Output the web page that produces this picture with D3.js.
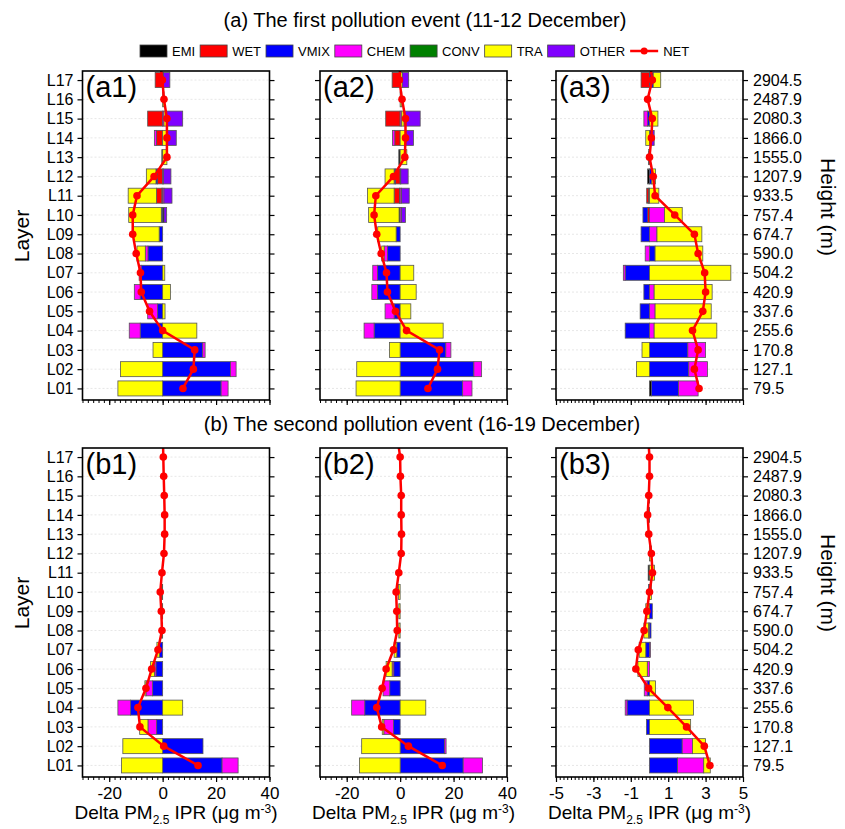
<!DOCTYPE html>
<html>
<head>
<meta charset="utf-8">
<script src="https://cdn.jsdelivr.net/npm/d3@7"></script>
<style>
  body { margin: 0; background: #fff; }
  svg { font-family: Arial, "Liberation Sans", sans-serif; }
</style>
</head>
<body>
<svg id="chart" width="845" height="829"></svg>
<script>
// Layers and model heights
var layers = ["L01","L02","L03","L04","L05","L06","L07","L08","L09","L10","L11","L12","L13","L14","L15","L16","L17"];
var heights = ["79.5","127.1","170.8","255.6","337.6","420.9","504.2","590.0","674.7","757.4","933.5","1207.9","1555.0","1866.0","2080.3","2487.9","2904.5"];

var processes = ["EMI","WET","VMIX","CHEM","CONV","TRA","OTHER"];
var colors = ["#000000","#ff0000","#0000ff","#ff00ff","#008000","#ffff00","#8000ff"];

var zeros = [0,0,0,0,0,0,0,0,0,0,0,0,0,0,0,0,0];

// (a1) first event, values L01..L17
var a1 = {
  EMI:   [0,0,0,0,0,0,0,0,0,0.5,-0.3,0,-0.3,0,0,0,0],
  WET:   [0,0,0,0,0,0,0,0,0,0,-2.0,-1.9,0,-2.3,-5.6,0,-2.8],
  VMIX:  [21.9,25.4,15.0,-8.4,-1.9,-8.4,-8.0,-5.5,-1.3,-0.5,0,-0.6,0,0,0,0,0.3],
  CHEM:  [2.6,2.1,0.9,-4.1,-3.7,-2.2,-0.8,-1.0,0,0,0.5,0.3,0,-0.8,0.5,0,0],
  CONV:  zeros,
  TRA:   [-16.75,-15.75,-3.6,12.8,0.9,2.9,0.8,-3.1,-9.6,-12.2,-10.6,-3.6,1.6,1.6,1.0,0.5,0],
  OTHER: [0,0,0,0,0,0,0,0,0,1.0,3.0,2.8,0,3.5,6.0,0,2.4]
};
// NET has one extra value above L17 (clipped by the frame)
var a1_net = [7.6,11.5,12.0,0.0,-4.9,-8.0,-8.3,-9.9,-11.2,-11.2,-9.6,-3.2,1.6,1.6,1.6,0.5,-0.1,-1.0];

var a2 = {
  EMI:   [0,0,0,0,0,0,0,0,0,-0.4,-0.25,0,-0.5,0,0,0,0],
  WET:   [0,0,0,0,0,0,0,0,0,0,-2.0,-1.75,0,-2.0,-5.4,0,-3.0],
  VMIX:  [23.4,27.6,17.1,-9.75,-2.25,-8.5,-8.5,-4.75,-1.5,0,0,-0.5,0,0,0,0,0],
  CHEM:  [3.5,2.9,1.9,-3.75,-3.4,-2.1,-1.75,-1.25,0,0.5,0.5,0.25,0,-0.9,0.6,0,0],
  CONV:  zeros,
  TRA:   [-16.5,-16.25,-4.0,16.1,4.0,6.0,5.1,-0.9,-6.9,-11.4,-10.0,-3.4,2.5,2.1,0.9,0.6,0.8],
  OTHER: [0,0,0,0,0,0,0,0,0,1.5,2.9,2.75,0,2.9,6.0,0,2.4]
};
var a2_net = [10.4,14.0,14.75,2.4,-1.75,-4.75,-5.1,-7.1,-8.75,-9.75,-9.1,-2.5,1.75,2.0,2.0,0.7,-0.3,0.2];

var a3 = {
  EMI:   [0.1,0,0,0,0,0,0,0,0,0,-0.05,-0.1,-0.05,0,0,0,0],
  WET:   [0,0,0,0,0,0,0,0,0,-0.1,-0.1,0,0,0,0,0,-0.45],
  VMIX:  [1.45,2.1,2.05,-1.3,-0.5,-0.3,-1.3,0.3,-0.45,-0.25,0,0.12,0,0.1,-0.1,0,0.2],
  CHEM:  [1.05,1.0,0.95,0.25,0.3,0.25,-0.1,-0.23,0.4,0.8,0,0,0,0,-0.2,0,0],
  CONV:  zeros,
  TRA:   [0,-0.7,-0.4,3.35,3.0,3.1,4.35,2.55,2.4,0.95,0.5,0.2,0,-0.2,0.45,0,0.4],
  OTHER: [0,0,0,0,0,0,0,0,0,0,0,0,0,0.15,0,0,0]
};
var a3_net = [2.65,2.4,2.6,2.3,2.85,3.0,2.95,2.6,2.4,1.35,0.3,0.2,0.0,0.1,0.15,-0.1,0.15,0.0];

// (b) second event
var b1 = {
  EMI:   zeros,
  WET:   zeros,
  VMIX:  [22.25,15.1,-2.25,-12.0,-3.75,-2.5,-1.25,-0.2,-0.2,-0.2,0,0,0,0,0,0,0],
  CHEM:  [6.0,0,-3.25,-4.75,-2.5,-0.6,0,0,0,0,0,0,0,0,0,0,0],
  CONV:  zeros,
  TRA:   [-15.4,-14.9,-3.1,7.5,-0.4,-1.4,-0.9,-0.3,-0.3,-0.3,0,0,0,0,0,0,0],
  OTHER: zeros
};
var b1_net = [13.25,0.4,-8.5,-9.25,-6.25,-4.1,-1.75,-0.25,-0.5,-0.9,-0.25,0.5,0.75,0.75,0.6,0.4,0.25,0.1];

var b2 = {
  EMI:   zeros,
  WET:   zeros,
  VMIX:  [23.6,16.6,-2.5,-13.25,-3.9,-2.4,-1.25,0,0,0,0,0,0,0,0,0,0],
  CHEM:  [7.25,0.6,-3.6,-4.9,-2.5,-0.6,0,0,0,0,0,0,0,0,0,0,0],
  CONV:  zeros,
  TRA:   [-15.25,-14.4,-0.6,9.6,0,-2.25,-1.0,-0.5,-0.5,-0.6,0,0,0,0,0,0,0],
  OTHER: zeros
};
var b2_net = [15.75,3.1,-6.9,-8.75,-6.75,-5.25,-2.5,-1.1,-1.25,-1.5,-0.5,0.4,0.5,0.4,0.4,0.1,0,-1.0];

var b3 = {
  EMI:   [0,0,0,0,0,0,0,0,0,0,-0.07,0,0,-0.05,-0.05,0,0],
  WET:   zeros,
  VMIX:  [1.5,1.75,-0.16,-1.2,-0.12,0,-0.2,0.08,0.15,-0.05,0,0,0,0,0,0,0],
  CHEM:  [1.4,0.55,0,-0.1,-0.16,-0.12,0.05,-0.05,0,0,0,0,0,0,0,0,0],
  CONV:  zeros,
  TRA:   [0.35,0.7,2.2,2.35,0.32,-0.5,-0.35,-0.25,-0.2,0.1,0.27,0.1,0,0,0,0,0],
  OTHER: zeros
};
var b3_net = [3.23,2.93,1.98,0.98,-0.05,-0.73,-0.6,-0.29,-0.14,0,0.16,0.1,-0.04,-0.1,-0.04,0,0,-0.07];

// Layout
var svg = d3.select("#chart");
var panelW = 187, panelH = 329;
var lefts = [82.5, 320, 556];
var tops = [71, 448];

var wideDomain = [-30, 40], narrowDomain = [-5, 5];

// Titles
svg.append("text").attr("x", 425).attr("y", 27).attr("text-anchor", "middle")
   .style("font-size", "20px").text("(a) The first pollution event (11-12 December)");
svg.append("text").attr("x", 422).attr("y", 431).attr("text-anchor", "middle")
   .style("font-size", "20px").text("(b) The second pollution event (16-19 December)");

// Legend
var legend = svg.append("g");
var lx = 140;
processes.forEach(function(p, i) {
  legend.append("rect").attr("x", lx).attr("y", 45).attr("width", 27).attr("height", 12)
    .attr("fill", colors[i]).attr("stroke", "#444").attr("stroke-width", 0.8);
  var t = legend.append("text").attr("x", lx + 32).attr("y", 56).style("font-size", "13px").text(p);
  lx += 32 + t.node().getComputedTextLength() + 5;
});
legend.append("line").attr("x1", lx).attr("x2", lx + 28).attr("y1", 51).attr("y2", 51)
  .attr("stroke", "#ff0000").attr("stroke-width", 2.5);
legend.append("circle").attr("cx", lx + 14).attr("cy", 51).attr("r", 3.5).attr("fill", "#ff0000");
legend.append("text").attr("x", lx + 33).attr("y", 56).style("font-size", "13px").text("NET");

// Side titles
[236, 603].forEach(function(cy) {
  svg.append("text").attr("transform", "translate(29," + cy + ") rotate(-90)")
    .attr("text-anchor", "middle").style("font-size", "21px").text("Layer");
});
[207, 583].forEach(function(cy) {
  svg.append("text").attr("transform", "translate(821," + cy + ") rotate(90)")
    .attr("text-anchor", "middle").style("font-size", "21px").text("Height (m)");
});

var panels = [
  {id: "a1", data: a1, net: a1_net, col: 0, row: 0},
  {id: "a2", data: a2, net: a2_net, col: 1, row: 0},
  {id: "a3", data: a3, net: a3_net, col: 2, row: 0},
  {id: "b1", data: b1, net: b1_net, col: 0, row: 1},
  {id: "b2", data: b2, net: b2_net, col: 1, row: 1},
  {id: "b3", data: b3, net: b3_net, col: 2, row: 1}
];

panels.forEach(drawPanel);

function drawPanel(p) {
  var x0 = lefts[p.col], y0 = tops[p.row];
  var narrow = p.col === 2;
  var x = d3.scaleLinear().domain(narrow ? narrowDomain : wideDomain).range([0, panelW]);
  var y = d3.scaleLinear().domain([0.4, 17.47]).range([panelH, 0]);
  var g = svg.append("g").attr("transform", "translate(" + x0 + "," + y0 + ")");

  g.append("clipPath").attr("id", "clip-" + p.id)
    .append("rect").attr("width", panelW).attr("height", panelH);

  // gridlines
  g.selectAll(".grid").data(layers).enter().append("line")
    .attr("x1", 0).attr("x2", panelW)
    .attr("y1", function(d, i) { return y(i + 1); })
    .attr("y2", function(d, i) { return y(i + 1); })
    .attr("stroke", "#e0e0e0").attr("stroke-width", 0.8).attr("stroke-dasharray", "2,2");

  // stacked bars, positive and negative separately
  var barH = 15;
  var segs = [];
  layers.forEach(function(l, i) {
    var pos = 0, neg = 0;
    processes.forEach(function(pr, k) {
      var v = p.data[pr][i];
      if (v > 0) { segs.push({i: i, k: k, a: pos, b: pos + v}); pos += v; }
      else if (v < 0) { segs.push({i: i, k: k, a: neg + v, b: neg}); neg += v; }
    });
  });
  g.append("g").attr("clip-path", "url(#clip-" + p.id + ")")
    .selectAll("rect").data(segs).enter().append("rect")
    .attr("x", function(d) { return x(d.a); })
    .attr("width", function(d) { return Math.max(0.5, x(d.b) - x(d.a)); })
    .attr("y", function(d) { return y(d.i + 1) - barH / 2; })
    .attr("height", barH)
    .attr("fill", function(d) { return colors[d.k]; })
    .attr("stroke", "#555").attr("stroke-width", 0.8);

  // NET line
  var line = d3.line().x(function(d) { return x(d); }).y(function(d, i) { return y(i + 1); });
  var ng = g.append("g").attr("clip-path", "url(#clip-" + p.id + ")");
  ng.append("path").datum(p.net).attr("d", line)
    .attr("fill", "none").attr("stroke", "#ff0000").attr("stroke-width", 2.5);
  ng.selectAll("circle").data(p.net.slice(0, 17)).enter().append("circle")
    .attr("cx", function(d) { return x(d); })
    .attr("cy", function(d, i) { return y(i + 1); })
    .attr("r", 3.8).attr("fill", "#ff0000");

  // axes
  var idx = d3.range(1, 18);
  var left = g.append("g").call(d3.axisLeft(y).tickValues(idx).tickSize(5).tickPadding(4)
    .tickFormat(function(d) { return p.col === 0 ? layers[d - 1] : ""; }));
  var right = g.append("g").attr("transform", "translate(" + panelW + ",0)")
    .call(d3.axisRight(y).tickValues(idx).tickSize(5).tickPadding(5)
    .tickFormat(function(d) { return p.col === 2 ? heights[d - 1] : ""; }));
  [left, right].forEach(function(a) {
    a.select(".domain").remove();
    a.selectAll("text").style("font-size", "16px").attr("fill", "#000");
    a.selectAll("line").attr("stroke-width", 1.2);
  });

  var majors = narrow ? [-5, -3, -1, 1, 3, 5] : [-20, 0, 20, 40];
  var minors = narrow ? d3.range(-5, 5.001, 0.2) : d3.range(-30, 40.001, 2);
  var minorAx = g.append("g").attr("transform", "translate(0," + panelH + ")")
    .call(d3.axisBottom(x).tickValues(minors).tickSize(3).tickFormat(""));
  minorAx.select(".domain").remove();
  minorAx.selectAll("line").attr("stroke-width", 1);
  var majorAx = g.append("g").attr("transform", "translate(0," + panelH + ")")
    .call(d3.axisBottom(x).tickValues(majors).tickSize(5).tickPadding(5)
    .tickFormat(function(d) { return p.row === 1 ? d : ""; }));
  majorAx.select(".domain").remove();
  majorAx.selectAll("line").attr("stroke-width", 1.2);
  majorAx.selectAll("text").style("font-size", "17px").attr("fill", "#000");

  // frame
  g.append("rect").attr("width", panelW).attr("height", panelH)
    .attr("fill", "none").attr("stroke", "#000").attr("stroke-width", 1.6);

  // panel label
  g.append("text").attr("x", 3).attr("y", 26).style("font-size", "29px").text("(" + p.id + ")");

  // x title
  if (p.row === 1) {
    var t = g.append("text").attr("x", panelW / 2).attr("y", panelH + 42)
      .attr("text-anchor", "middle").style("font-size", "19px");
    t.append("tspan").text("Delta PM");
    t.append("tspan").attr("dy", 5).style("font-size", "12px").text("2.5");
    t.append("tspan").attr("dy", -5).text(" IPR (\u03bcg m");
    t.append("tspan").attr("dy", -6).style("font-size", "12px").text("-3");
    t.append("tspan").attr("dy", 6).text(")");
  }
}
</script>
</body>
</html>
